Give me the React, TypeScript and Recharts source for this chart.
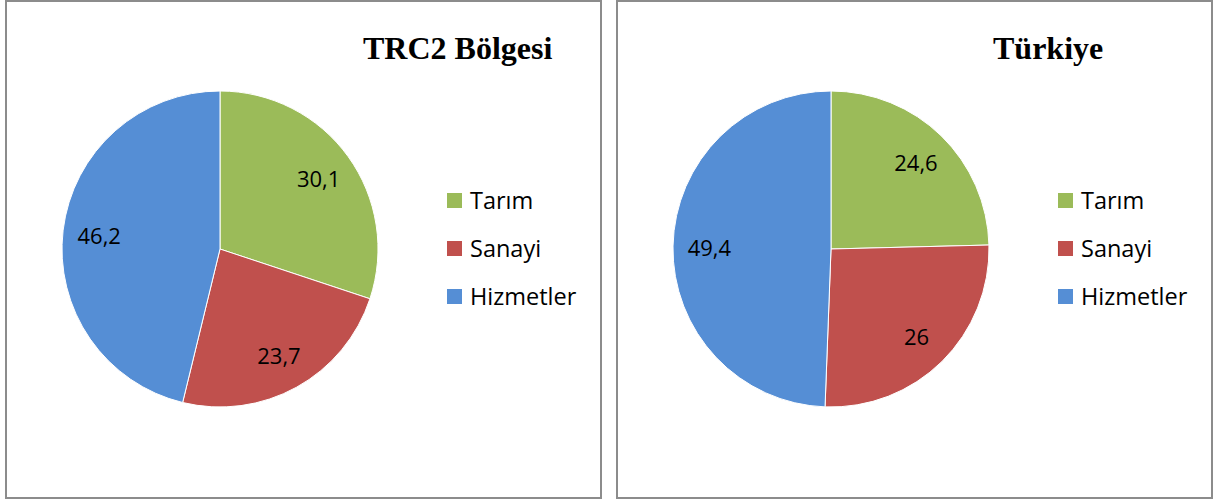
import React from 'react';
import { PieChart, Pie, Cell } from 'recharts';

const sectors = ['Tarım', 'Sanayi', 'Hizmetler'];
const colors = ['#9BBB59', '#C0504D', '#558ED5'];
const trc2Values = [30.1, 23.7, 46.2];
const turkiyeValues = [24.6, 26, 49.4];

const fmt = (v: number) => String(v).replace('.', ',');

const renderLabel = (props: any) => {
  const { cx, cy, midAngle, outerRadius, value } = props;
  const rad = (Math.PI / 180) * midAngle;
  const r = outerRadius * 0.77;
  const x = cx + r * Math.cos(rad);
  const y = cy - r * Math.sin(rad);
  return (
    <text x={x} y={y} fill="#000" fontSize={22} fontFamily="'Open Sans', sans-serif" textAnchor="middle" dominantBaseline="central">
      {fmt(value)}
    </text>
  );
};

function LegendBox({ left, top }: { left: number; top: number }) {
  return (
    <div style={{ position: 'absolute', left, top, fontFamily: "'Open Sans', sans-serif", fontSize: 23.5, color: '#000' }}>
      {sectors.map((s, i) => (
        <div key={s} style={{ display: 'flex', alignItems: 'center', height: 48 }}>
          <span style={{ width: 15, height: 15, background: colors[i], marginRight: 8 }} />
          <span>{s}</span>
        </div>
      ))}
    </div>
  );
}

function PiePanel({ title, values, left, titleLeft }: { title: string; values: number[]; left: number; titleLeft: number }) {
  const data = sectors.map((name, i) => ({ name, value: values[i] }));
  return (
    <div style={{ position: 'absolute', left, top: 0, width: 597, height: 499, border: '2px solid #8c8c8c', boxSizing: 'border-box', background: '#fff' }}>
      <div style={{ position: 'absolute', left: titleLeft, top: 28, fontFamily: "'Liberation Serif', serif", fontWeight: 'bold', fontSize: 32, color: '#000', whiteSpace: 'nowrap' }}>
        {title}
      </div>
      <PieChart width={593} height={495} margin={{ top: 0, right: 0, bottom: 0, left: 0 }} style={{ position: 'absolute', left: 0, top: 0 }}>
        <Pie
          data={data}
          dataKey="value"
          cx={213}
          cy={247}
          outerRadius={158}
          startAngle={90}
          endAngle={-270}
          stroke="#fff"
          strokeWidth={1}
          label={renderLabel}
          labelLine={false}
          isAnimationActive={false}
        >
          {data.map((d, i) => (
            <Cell key={d.name} fill={colors[i]} />
          ))}
        </Pie>
      </PieChart>
      <LegendBox left={440} top={174} />
    </div>
  );
}

export default function App() {
  return (
    <div style={{ position: 'absolute', left: 0, top: 0, width: 1217, height: 502, background: '#fff' }}>
      <PiePanel title="TRC2 Bölgesi" values={trc2Values} left={5} titleLeft={356} />
      <PiePanel title="Türkiye" values={turkiyeValues} left={616} titleLeft={375} />
    </div>
  );
}
